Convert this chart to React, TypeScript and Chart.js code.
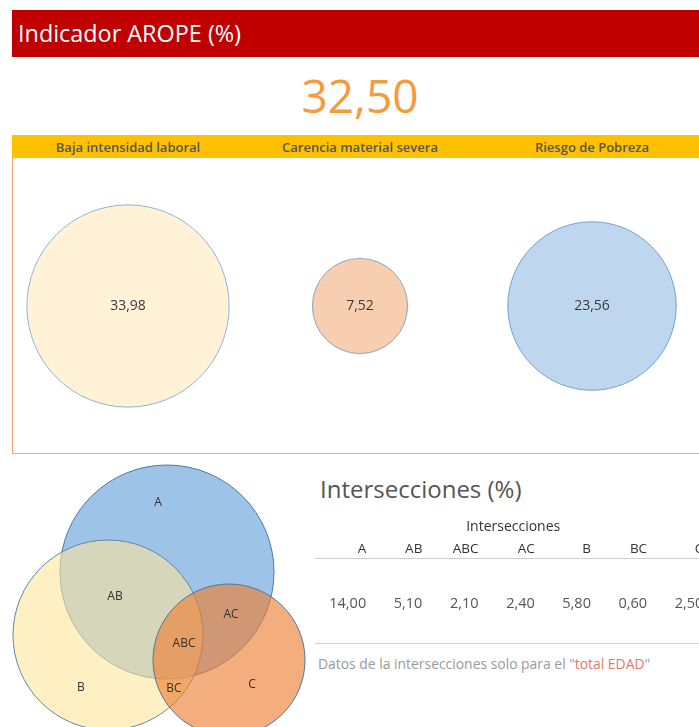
import React, { useEffect, useRef } from "react";
import { Chart, registerables } from "chart.js";
Chart.register(...registerables);

// ---- data ----
const pageTitle = "Indicador AROPE (%)";
const aropeValue = 32.5;
const componentLabels = ["Baja intensidad laboral", "Carencia material severa", "Riesgo de Pobreza"];
const componentValues = [33.98, 7.52, 23.56];
const componentFill = ["#fff2d6", "#f8ceb0", "#bfd7ee"];
const componentBorder = ["#8fb4da", "#8aa6c4", "#6fa0d2"];

const vennSetNames = ["A", "B", "C"];
const vennCenterX = [167, 108, 229];
const vennCenterY = [112, 175, 200];
const vennRadius = [107, 95, 76];
const vennFill = ["rgba(91,155,213,0.6)", "rgba(255,230,153,0.58)", "rgba(237,125,49,0.63)"];
const vennBorder = ["#4a7aa6", "#5b86b0", "#4f7699"];

const regionLabels = ["A", "AB", "AC", "ABC", "B", "BC", "C"];
const regionX = [158, 115, 231, 184, 81, 174, 252];
const regionY = [43, 137, 155, 184, 228, 229, 225];

const tableTitle = "Intersecciones (%)";
const tableGroup = "Intersecciones";
const intersectionKeys = ["A", "AB", "ABC", "AC", "B", "BC", "C"];
const intersectionValues = [14.0, 5.1, 2.1, 2.4, 5.8, 0.6, 2.5];
const footnoteStart = "Datos de la intersecciones solo para el \"";
const footnoteHighlight = "total EDAD";
const footnoteEnd = "\"";

const FONT = "'Open Sans', 'Noto Sans', sans-serif";
const fmt = (v: number) => v.toFixed(2).replace(".", ",");

const bubbleLabelPlugin = {
  id: "bubbleLabels",
  afterDatasetsDraw(chart: any) {
    const ctx = chart.ctx;
    const meta = chart.getDatasetMeta(0);
    ctx.save();
    ctx.fillStyle = "#3a3a3a";
    ctx.font = `14px ${FONT}`;
    ctx.textAlign = "center";
    ctx.textBaseline = "middle";
    meta.data.forEach((el: any, i: number) => {
      ctx.fillText(fmt(componentValues[i]), el.x, el.y);
    });
    ctx.restore();
  },
};

const vennLabelPlugin = {
  id: "vennLabels",
  afterDatasetsDraw(chart: any) {
    const ctx = chart.ctx;
    const xs = chart.scales.x;
    const ys = chart.scales.y;
    ctx.save();
    ctx.fillStyle = "#333";
    ctx.font = `12px ${FONT}`;
    ctx.textAlign = "center";
    ctx.textBaseline = "middle";
    regionLabels.forEach((l, i) => {
      ctx.fillText(l, xs.getPixelForValue(regionX[i]), ys.getPixelForValue(regionY[i]));
    });
    ctx.restore();
  },
};

const baseOptions: any = {
  animation: false,
  responsive: false,
  maintainAspectRatio: false,
  layout: { padding: 0, autoPadding: false },
  events: [],
  plugins: { legend: { display: false }, tooltip: { enabled: false } },
};

function ComponentBubbles() {
  const ref = useRef<HTMLCanvasElement>(null);
  useEffect(() => {
    const chart = new Chart(ref.current!, {
      type: "bubble",
      data: {
        datasets: [
          {
            data: componentValues.map((v, i) => ({ x: i + 0.5, y: 0.5, r: 17.35 * Math.sqrt(v) })),
            backgroundColor: componentFill,
            borderColor: componentBorder,
            borderWidth: 1,
            clip: false,
          } as any,
        ],
      },
      options: {
        ...baseOptions,
        scales: {
          x: { type: "linear", min: 0, max: componentValues.length, display: false },
          y: { type: "linear", min: 0, max: 1, display: false },
        },
      },
      plugins: [bubbleLabelPlugin],
    });
    return () => chart.destroy();
  }, []);
  return <canvas ref={ref} width={696} height={294} style={{ display: "block" }} />;
}

function VennBubbles() {
  const ref = useRef<HTMLCanvasElement>(null);
  useEffect(() => {
    const chart = new Chart(ref.current!, {
      type: "bubble",
      data: {
        datasets: vennSetNames.map((name, i) => ({
          label: name,
          data: [{ x: vennCenterX[i], y: vennCenterY[i], r: vennRadius[i] }],
          backgroundColor: vennFill[i],
          borderColor: vennBorder[i],
          borderWidth: 1,
          clip: false,
          order: -i,
        })) as any,
      },
      options: {
        ...baseOptions,
        scales: {
          x: { type: "linear", min: 0, max: 315, display: false },
          y: { type: "linear", min: 0, max: 267, reverse: true, display: false },
        },
      },
      plugins: [vennLabelPlugin],
    });
    return () => chart.destroy();
  }, []);
  return <canvas ref={ref} width={315} height={267} style={{ display: "block" }} />;
}

export default function App() {
  const abs = (l: number, t: number, extra: React.CSSProperties = {}): React.CSSProperties => ({
    position: "absolute",
    left: l,
    top: t,
    ...extra,
  });
  return (
    <div
      style={{
        position: "fixed",
        left: 0,
        top: 0,
        width: 699,
        height: 727,
        overflow: "hidden",
        background: "#fff",
        fontFamily: FONT,
      }}
    >
      {/* red title bar */}
      <div
        style={abs(12, 10, {
          width: 700,
          height: 47,
          background: "#c00000",
          color: "#fff",
          fontSize: 23.4,
          lineHeight: "47px",
          paddingLeft: 6,
          boxSizing: "border-box",
          whiteSpace: "nowrap",
        })}
      >
        {pageTitle}
      </div>
      {/* big value */}
      <div
        style={abs(12, 64, {
          width: 696,
          textAlign: "center",
          color: "#f59a3e",
          fontSize: 46,
          lineHeight: "62px",
        })}
      >
        {fmt(aropeValue)}
      </div>
      {/* components box */}
      <div
        style={abs(12, 135, {
          width: 698,
          height: 319,
          border: "1px solid #f4a66c",
          boxSizing: "border-box",
        })}
      />
      <div style={abs(12, 135, { width: 696, height: 23, background: "#ffc000", display: "flex" })}>
        {componentLabels.map((l) => (
          <div
            key={l}
            style={{
              width: 232,
              textAlign: "center",
              fontSize: 13,
              fontWeight: 600,
              lineHeight: "24px",
              color: "#555",
              whiteSpace: "nowrap",
            }}
          >
            {l}
          </div>
        ))}
      </div>
      <div style={abs(12, 159)}>
        <ComponentBubbles />
      </div>
      {/* venn */}
      <div style={abs(0, 460)}>
        <VennBubbles />
      </div>
      {/* intersections table */}
      <div style={abs(320, 473, { fontSize: 24, color: "#555", lineHeight: "32px", whiteSpace: "nowrap" })}>
        {tableTitle}
      </div>
      <div
        style={abs(314, 516, { width: 7 * 56.2 + 5, textAlign: "center", fontSize: 14, color: "#333", lineHeight: "20px" })}
      >
        {tableGroup}
      </div>
      <div
        style={abs(315, 539, {
          width: 400,
          height: 19,
          borderBottom: "1px solid #d0d0d0",
        })}
      />
      <div style={abs(310, 538, { display: "flex" })}>
        {intersectionKeys.map((k) => (
          <div
            key={k}
            style={{ width: 56.2, flexShrink: 0, textAlign: "right", fontSize: 13.5, color: "#333", lineHeight: "20px" }}
          >
            {k}
          </div>
        ))}
      </div>
      <div style={abs(310, 593, { display: "flex" })}>
        {intersectionValues.map((v, i) => (
          <div
            key={intersectionKeys[i]}
            style={{ width: 56.2, textAlign: "right", fontSize: 14.5, color: "#555", lineHeight: "20px", flexShrink: 0 }}
          >
            {fmt(v)}
          </div>
        ))}
      </div>
      <div style={abs(315, 643, { width: 400, height: 0, borderTop: "1px solid #d0d0d0" })} />
      <div style={abs(318, 655, { fontSize: 13.9, color: "#9a9a9a", lineHeight: "18px", whiteSpace: "nowrap" })}>
        {footnoteStart}
        <span style={{ color: "#e07a68" }}>{footnoteHighlight}</span>
        {footnoteEnd}
      </div>
    </div>
  );
}
